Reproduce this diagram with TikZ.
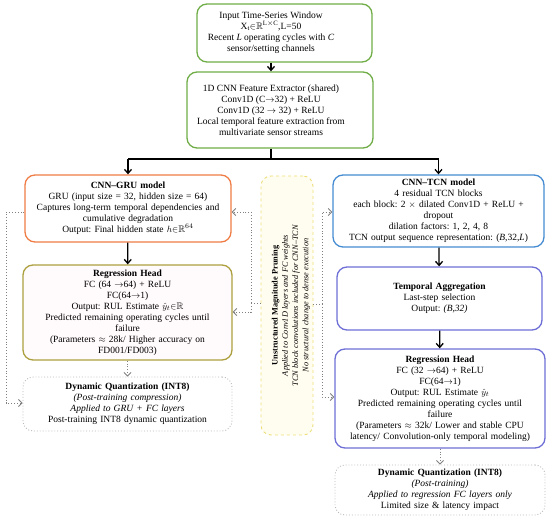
\documentclass[tikz,border=0pt]{standalone}
\usepackage{amssymb}
\usepackage{fontspec}
\setmainfont{Liberation Serif}
\usetikzlibrary{arrows.meta}
\definecolor{cgreen}{RGB}{112,173,71}
\definecolor{corange}{RGB}{240,125,70}
\definecolor{colive}{RGB}{172,160,62}
\definecolor{cblue}{RGB}{70,140,210}
\definecolor{cpurple}{RGB}{110,110,215}
\definecolor{cgrayd}{RGB}{185,185,185}
\definecolor{cyellowd}{RGB}{238,222,120}
\definecolor{cyellowf}{RGB}{255,253,240}
\definecolor{cpinkf}{RGB}{255,250,252}
\frenchspacing
\begin{document}
\begin{tikzpicture}[x=1pt,y=-1pt,
  every node/.style={font=\fontsize{9.5}{11}\selectfont},
  box/.style={draw, rounded corners=10pt, line width=1.3pt, align=center, inner sep=2pt, fill=white},
  dbox/.style={draw=cgrayd, dotted, rounded corners=10pt, line width=0.9pt, align=center, inner sep=2pt, fill=white},
  arr/.style={line width=1.3pt, -{Straight Barb[length=4pt,width=7pt]}},
  sline/.style={line width=1.3pt},
  darr/.style={gray, dotted, line width=0.9pt, -{Straight Barb[length=3.5pt,width=7pt]}},
  dline/.style={gray, dotted, line width=0.9pt}]

\useasboundingbox (0,0) rectangle (550,521);

% top boxes (text sits left of box centre, as in the reference)
\node[box, draw=cgreen, minimum width=175pt, minimum height=58pt] (inp) at (284.5,33) {};
\node[align=center] (inptext) at (271,33)
 {Input Time-Series Window\\ \smash{$\mathrm{X_t}{\in}\mathbb{R}^{\mathrm{L}\times \mathrm{C}}$},L=50\\ Recent \textit{L} operating cycles with \textit{C}\\ sensor/setting channels};

\node[box, draw=cgreen, minimum width=186pt, minimum height=76pt] (cnn) at (280,110) {};
\node[align=center] (cnntext) at (271,110)
 {1D CNN Feature Extractor (shared)\\ Conv1D (C$\rightarrow$32) + ReLU\\ Conv1D (32 $\rightarrow$ 32) + ReLU\\ Local temporal feature extraction from\\ multivariate sensor streams};

% left column
\node[box, draw=corange, minimum width=206pt, minimum height=67pt, text width=200pt] (gru) at (128,208.5)
 {\textbf{CNN--GRU model}\\ GRU (input size = 32, hidden size = 64)\\ Captures long-term temporal dependencies and\\ cumulative degradation\\ Output: Final hidden state $h{\in}\mathbb{R}^{64}$};

\node[box, draw=colive, fill=cpinkf, minimum width=209pt, minimum height=95pt, text width=203pt] (rhl) at (127.5,312.5)
 {\textbf{Regression Head}\\ FC (64 $\rightarrow$64) + ReLU\\ FC(64$\rightarrow$1)\\ Output: RUL Estimate \smash{$\hat{y}_t{\in}\mathbb{R}$}\\ Predicted remaining operating cycles until\\ failure\\ (Parameters $\approx$ 28k/ Higher accuracy on\\ FD001/FD003)};

\node[dbox, minimum width=209pt, minimum height=54pt, text width=203pt] (dql) at (127.5,404)
 {\textbf{Dynamic Quantization (INT8)}\\ \textit{(Post-training compression)}\\ \textit{Applied to GRU + FC layers}\\ Post-training INT8 dynamic quantization};

% pruning
\node[draw=cyellowd, dashed, fill=cyellowf, rounded corners=10pt, line width=0.9pt, minimum width=52pt, minimum height=259pt] (prbox) at (287,305.5) {};
\node[rotate=90, align=center, font=\fontsize{8.3}{10.2}\selectfont] (prtext) at (291,305.5)
 {\textbf{Unstructured Magnitude Pruning}\\ \textit{Applied to Conv1D layers and FC weights}\\ \textit{TCN block convolutions included for CNN--TCN}\\ \textit{No structural change to dense execution}};

% right column
\node[box, draw=cblue, minimum width=211pt, minimum height=72pt, text width=205pt] (tcn) at (438.5,211)
 {\textbf{CNN--TCN model}\\ 4 residual TCN blocks\\ each block: 2 $\times$ dilated Conv1D + ReLU +\\ dropout\\ dilation factors: 1, 2, 4, 8\\ TCN output sequence representation: (\textit{B},32,\textit{L})};

\node[box, draw=cpurple, minimum width=205pt, minimum height=63pt, text width=199pt] (tag) at (439.5,298.5)
 {\textbf{Temporal Aggregation}\\ Last-step selection\\ Output: \textit{(B,32)}};

\node[box, draw=cpurple, minimum width=210pt, minimum height=99pt, text width=204pt] (rhr) at (440,398.5)
 {\textbf{Regression Head}\\ FC (32 $\rightarrow$64) + ReLU\\ FC(64$\rightarrow$1)\\ Output: RUL Estimate \smash{$\hat{y}_t$}\\ Predicted remaining operating cycles until\\ failure\\ (Parameters $\approx$ 32k/ Lower and stable CPU\\ latency/ Convolution-only temporal modeling)};

\node[dbox, minimum width=210pt, minimum height=50pt, text width=204pt] (dqr) at (440,490)
 {\textbf{Dynamic Quantization (INT8)}\\ \textit{(Post-training)}\\ \textit{Applied to regression FC layers only}\\ Limited size \& latency impact};

% solid connectors
\draw[arr] (inptext |- inp.south) -- (inptext |- cnn.north);
\coordinate (sp) at (271,159);
\draw[sline] (cnntext |- cnn.south) -- (sp);
\draw[sline] (gru.north |- sp) -- (tcn.north |- sp);
\draw[arr] (gru.north |- sp) -- (gru.north);
\draw[arr] (tcn.north |- sp) -- (tcn.north);
\draw[arr] (gru) -- (rhl);
\draw[arr] (tcn) -- (tag);
\draw[arr] (tag) -- (rhr);

% dotted connectors
\draw[darr] (rhl) -- (dql);
\draw[darr] (rhr) -- (dqr);

\coordinate (gl1) at (6,212);
\coordinate (gl2) at (6,403);
\draw[darr] (gru.west |- gl1) -- (gl1) -- (gl2) -- (dql.west |- gl2);

\coordinate (pl) at (251,303);
\coordinate (plu) at (251,212);
\coordinate (pld) at (251,312);
\draw[dline] (prbox.west |- pl) -- (pl);
\draw[darr] (pl) -- (plu) -- (gru.east |- plu);
\draw[darr] (pl) -- (pld) -- (rhl.east |- pld);

\coordinate (pr) at (322,304);
\coordinate (pru) at (322,212);
\coordinate (prd) at (322,397);
\draw[dline] (prbox.east |- pr) -- (pr);
\draw[darr] (pr) -- (pru) -- (tcn.west |- pru);
\draw[darr] (pr) -- (prd) -- (rhr.west |- prd);
\end{tikzpicture}
\end{document}
